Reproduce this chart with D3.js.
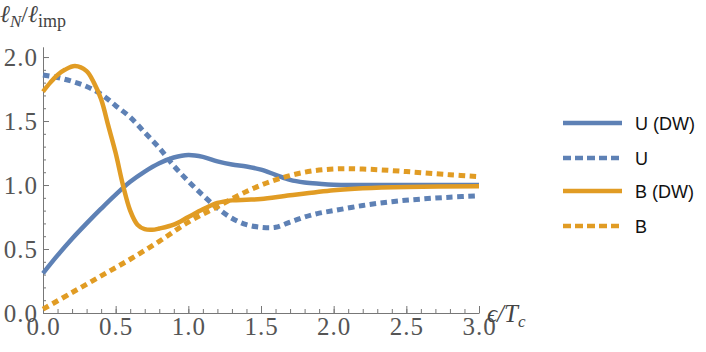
<!DOCTYPE html>
<html>
<head>
<meta charset="utf-8">
<script src="https://cdn.jsdelivr.net/npm/d3@7"></script>
<style>
  body { margin: 0; background: #fff; }
  svg { display: block; }
</style>
</head>
<body>
<div id="chart"></div>
<script>
// series (x = eps/Tc, y = lN/limp)
var uDwX = [0, 0.1, 0.2, 0.3, 0.4, 0.5, 0.6, 0.7, 0.8, 0.9, 1.0, 1.1, 1.2, 1.3, 1.4, 1.5, 1.6, 1.7, 1.8, 1.9, 2.0, 2.5, 3.0]
var uDwY = [0.31, 0.45, 0.58, 0.70, 0.815, 0.925, 1.025, 1.105, 1.17, 1.215, 1.235, 1.22, 1.185, 1.16, 1.145, 1.12, 1.08, 1.04, 1.02, 1.01, 1.003, 1.0, 1.0]

var uX = [0, 0.1, 0.2, 0.3, 0.4, 0.5, 0.6, 0.7, 0.8, 0.9, 1.0, 1.1, 1.2, 1.3, 1.4, 1.5, 1.6, 1.7, 1.8, 1.9, 2.0, 2.2, 2.4, 2.6, 2.8, 3.0]
var uY = [1.86, 1.84, 1.81, 1.77, 1.71, 1.62, 1.53, 1.41, 1.29, 1.15, 1.03, 0.92, 0.82, 0.74, 0.69, 0.67, 0.67, 0.71, 0.75, 0.78, 0.80, 0.84, 0.87, 0.89, 0.905, 0.915]

var bDwX = [0, 0.05, 0.1, 0.15, 0.22, 0.3, 0.35, 0.4, 0.45, 0.5, 0.55, 0.6, 0.65, 0.7, 0.75, 0.8, 0.9, 1.0, 1.1, 1.2, 1.3, 1.4, 1.5, 1.7, 2.0, 2.2, 2.5, 3.0]
var bDwY = [1.73, 1.80, 1.86, 1.90, 1.93, 1.89, 1.80, 1.67, 1.46, 1.25, 1.00, 0.80, 0.69, 0.655, 0.65, 0.66, 0.69, 0.75, 0.81, 0.86, 0.88, 0.885, 0.89, 0.92, 0.96, 0.975, 0.985, 0.99]

var bX = [0, 0.2, 0.4, 0.6, 0.8, 1.0, 1.2, 1.4, 1.6, 1.8, 2.0, 2.2, 2.5, 2.8, 3.0]
var bY = [0.03, 0.16, 0.29, 0.42, 0.56, 0.71, 0.83, 0.95, 1.04, 1.10, 1.125, 1.125, 1.105, 1.08, 1.065]

var legendNames = ["U (DW)", "U", "B (DW)", "B"]
var xTicks = [0, 0.5, 1.0, 1.5, 2.0, 2.5, 3.0]
var yTicks = [0, 0.5, 1.0, 1.5, 2.0]

var blue = "#5e81b5", orange = "#e19c24"

var series = [
    {name: legendNames[0], xs: uDwX, ys: uDwY, color: blue, dashed: false},
    {name: legendNames[1], xs: uX, ys: uY, color: blue, dashed: true},
    {name: legendNames[2], xs: bDwX, ys: bDwY, color: orange, dashed: false},
    {name: legendNames[3], xs: bX, ys: bY, color: orange, dashed: true}
]

var width = 706, height = 352

var svg = d3.select("#chart").append("svg")
    .attr("width", width)
    .attr("height", height)

var x = d3.scaleLinear().domain([0, 3]).range([43, 479])
var y = d3.scaleLinear().domain([0, 2.08]).range([313, 46.8])

var tickFont = "'Liberation Serif', 'Times New Roman', serif"
var axisColor = "#777"

// minor ticks first so the major axis sits on top
svg.append("g")
    .attr("transform", "translate(0," + y(0) + ")")
    .call(d3.axisBottom(x).ticks(30).tickSize(-4).tickSizeOuter(0).tickFormat(""))
    .call(function(g){ g.select(".domain").remove() })
    .selectAll("line").attr("stroke", axisColor)

svg.append("g")
    .attr("transform", "translate(" + x(0) + ",0)")
    .call(d3.axisLeft(y).tickValues(d3.range(0, 21).map(function(i){ return i / 10 }))
        .tickSize(-3).tickSizeOuter(0).tickFormat(""))
    .call(function(g){ g.select(".domain").remove() })
    .selectAll("line").attr("stroke", axisColor)

var xAxis = svg.append("g")
    .attr("transform", "translate(0," + y(0) + ")")
    .call(d3.axisBottom(x).tickValues(xTicks).tickSize(-7).tickSizeOuter(0)
        .tickPadding(8).tickFormat(d3.format(".1f")))
xAxis.select(".domain").attr("stroke", axisColor)
xAxis.selectAll("line").attr("stroke", axisColor)
xAxis.selectAll("text")
    .attr("font-family", tickFont)
    .attr("font-size", 25)
    .attr("letter-spacing", 1)
    .attr("fill", "#555")
    .attr("dy", "0.55em")

var yAxis = svg.append("g")
    .attr("transform", "translate(" + x(0) + ",0)")
    .call(d3.axisLeft(y).tickValues(yTicks).tickSize(-6).tickSizeOuter(0)
        .tickPadding(5).tickFormat(d3.format(".1f")))
yAxis.select(".domain").attr("stroke", axisColor)
yAxis.selectAll("line").attr("stroke", axisColor)
yAxis.selectAll("text")
    .attr("font-family", tickFont)
    .attr("font-size", 25)
    .attr("letter-spacing", 1)
    .attr("fill", "#555")

// axis titles
var yTitle = svg.append("text")
    .attr("x", 0)
    .attr("y", 22)
    .attr("font-family", tickFont)
    .attr("font-size", 24)
    .attr("fill", "#444")
yTitle.append("tspan").attr("font-style", "italic").text("ℓ")
yTitle.append("tspan").attr("font-style", "italic").attr("font-size", 17).attr("dy", 5).text("N")
yTitle.append("tspan").attr("dy", -5).text("/")
yTitle.append("tspan").attr("font-style", "italic").text("ℓ")
yTitle.append("tspan").attr("font-size", 18).attr("dy", 5).text("imp")

var xTitle = svg.append("text")
    .attr("x", 487)
    .attr("y", 322)
    .attr("font-family", tickFont)
    .attr("font-size", 25)
    .attr("fill", "#444")
xTitle.append("tspan").attr("font-style", "italic").text("ϵ/T")
xTitle.append("tspan").attr("font-style", "italic").attr("font-size", 17).attr("dy", 5).text("c")

// curves
var line = d3.line()
    .x(function(d){ return x(d[0]) })
    .y(function(d){ return y(d[1]) })
    .curve(d3.curveCatmullRom.alpha(0.5))

svg.append("g")
    .selectAll("path")
    .data(series)
    .enter()
    .append("path")
    .attr("d", function(d){
        return line(d.xs.map(function(v, i){ return [v, d.ys[i]] }))
    })
    .attr("fill", "none")
    .attr("stroke", function(d){ return d.color })
    .attr("stroke-width", function(d){ return d.dashed ? 5 : 4.5 })
    .attr("stroke-dasharray", function(d){ return d.dashed ? "6.5,4.5" : null })

// legend
var legendY = [123, 158, 191, 226]
var legend = svg.append("g")
    .selectAll("g")
    .data(series)
    .enter()
    .append("g")
    .attr("transform", function(d, i){ return "translate(563," + legendY[i] + ")" })

legend.append("line")
    .attr("x1", 0)
    .attr("x2", 59)
    .attr("stroke", function(d){ return d.color })
    .attr("stroke-width", 4.5)
    .attr("stroke-dasharray", function(d){ return d.dashed ? "8,4" : null })

legend.append("text")
    .attr("x", 72)
    .attr("y", 6.5)
    .attr("font-family", "'Liberation Sans', Arial, sans-serif")
    .attr("font-size", 18)
    .attr("fill", "#111")
    .text(function(d){ return d.name })
</script>
</body>
</html>
